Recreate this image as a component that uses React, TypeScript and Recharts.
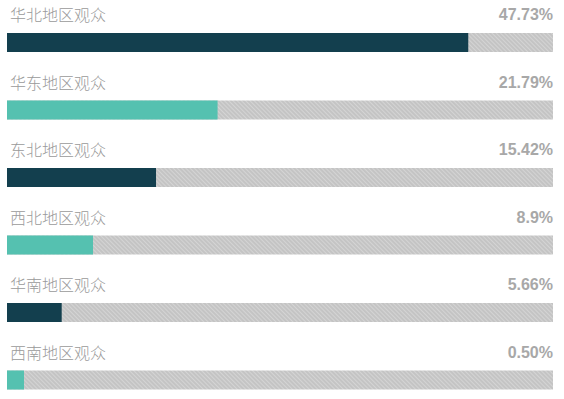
import React from "react";
import { BarChart, Bar, XAxis, YAxis } from "recharts";

const regions = ["华北地区观众", "华东地区观众", "东北地区观众", "西北地区观众", "华南地区观众", "西南地区观众"];
const shares = [47.73, 21.79, 15.42, 8.9, 5.66, 0.5];
const shareLabels = ["47.73%", "21.79%", "15.42%", "8.9%", "5.66%", "0.50%"];
const barColors = ["#133f4e", "#55c1b0", "#133f4e", "#55c1b0", "#133f4e", "#55c1b0"];

const data = regions.map((name, i) => ({ name, value: shares[i], label: shareLabels[i], color: barColors[i] }));

const W = 564;
const H = 414;
const margin = { top: 9, right: 11, bottom: 0, left: 7 };

const Background = (props: any) => {
  const { x, y, width, height, index } = props;
  const d = data[index];
  return (
    <g>
      <rect x={x} y={y} width={width} height={height} fill="url(#hatch)" />
      <text
        x={x + 3}
        y={y - 12}
        fill="#9a9a9a"
        fontSize={16}
        fontWeight={300}
        fontFamily="'Noto Sans CJK SC', sans-serif"
      >
        {d.name}
      </text>
      <text
        x={x + width}
        y={y - 13}
        fill="#a8a8a8"
        fontSize={16}
        fontWeight="bold"
        textAnchor="end"
        fontFamily="'Liberation Sans', Arial, sans-serif"
      >
        {d.label}
      </text>
    </g>
  );
};

const Fill = (props: any) => {
  const { x, y, width, height, index } = props;
  return <rect x={x} y={y} width={width} height={height} fill={data[index].color} />;
};

export default function App() {
  return (
    <div style={{ position: "absolute", left: 0, top: 0, width: W, height: 399, overflow: "hidden", background: "#fff" }}>
      <BarChart width={W} height={H} data={data} layout="vertical" margin={margin} barCategoryGap={0}>
        <defs>
          <pattern id="hatch" width="3" height="3" patternUnits="userSpaceOnUse" patternTransform="rotate(-45)">
            <rect width="3" height="3" fill="#c4c4c4" />
            <line x1="0" y1="0" x2="0" y2="3" stroke="#e0e0e0" strokeWidth="1.2" />
          </pattern>
        </defs>
        <XAxis type="number" domain={[0, 56.5]} hide />
        <YAxis type="category" dataKey="name" hide />
        <Bar
          dataKey="value"
          barSize={19}
          isAnimationActive={false}
          background={<Background />}
          shape={<Fill />}
          minPointSize={17}
        />
      </BarChart>
    </div>
  );
}
